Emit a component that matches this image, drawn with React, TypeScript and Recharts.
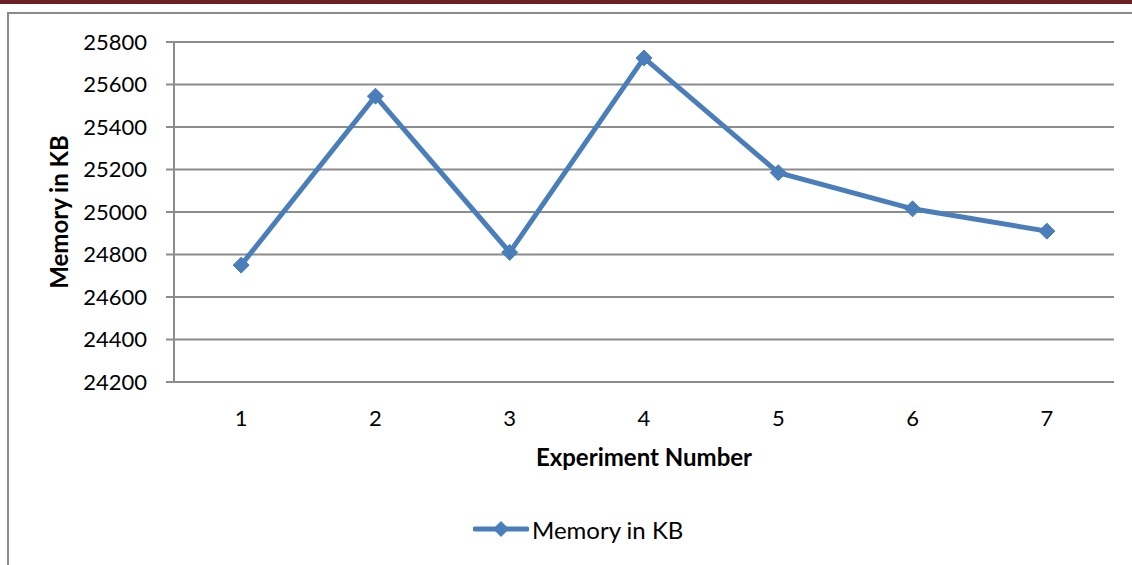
import { LineChart, Line, XAxis, YAxis, CartesianGrid } from 'recharts';

const experiments = [1, 2, 3, 4, 5, 6, 7];
const memoryKb = [24750, 25545, 24810, 25725, 25185, 25015, 24910];
const yTicks = [24200, 24400, 24600, 24800, 25000, 25200, 25400, 25600, 25800];
const boundaryTicks = [0.5, 1.5, 2.5, 3.5, 4.5, 5.5, 6.5, 7.5];

const data = experiments.map((n, i) => ({ exp: n, memory: memoryKb[i] }));

const BLUE = '#4a7ebb';
const GRID = '#8c8c8c';
const FONT = 'Lato, "Open Sans", sans-serif';

const Diamond = (props: any) => {
    const { cx, cy } = props;
    if (cx == null || cy == null) return null;
    const r = 8;
    return (
        <polygon
            points={`${cx},${cy - r} ${cx + r},${cy} ${cx},${cy + r} ${cx - r},${cy}`}
            fill={BLUE}
            stroke={BLUE}
        />
    );
};

export default function App() {
    return (
        <div style={{ position: 'absolute', left: 0, top: 0, width: 1132, height: 565, background: '#fff', overflow: 'hidden', fontFamily: FONT }}>
            <div style={{ position: 'absolute', left: 0, top: 0, width: 1132, height: 4, background: '#6b2024' }} />
            <div style={{ position: 'absolute', left: 7, top: 12, width: 1140, height: 600, border: '2px solid #8a8a8a', boxSizing: 'border-box' }} />
            <div style={{ position: 'absolute', left: 0, top: 0 }}>
                <LineChart width={1132} height={565} data={data} margin={{ top: 42, right: 18, bottom: 93, left: 44 }}>
                    <CartesianGrid vertical={false} stroke={GRID} strokeWidth={2} />
                    <XAxis
                        xAxisId="bounds"
                        dataKey="exp"
                        type="number"
                        domain={[0.5, 7.5]}
                        ticks={boundaryTicks}
                        tick={false}
                        height={0}
                        axisLine={false}
                        tickLine={{ stroke: GRID, strokeWidth: 2 }}
                        tickSize={8}
                    />
                    <XAxis
                        dataKey="exp"
                        type="number"
                        domain={[0.5, 7.5]}
                        ticks={experiments}
                        height={90}
                        axisLine={{ stroke: GRID, strokeWidth: 2 }}
                        tickLine={false}
                        tickSize={8}
                        tickMargin={20}
                        tick={{ fill: '#000', fontSize: 22, fontFamily: FONT }}
                        label={{ value: 'Experiment Number', position: 'insideBottom', offset: 6, fill: '#000', fontSize: 24, fontWeight: 'bold', fontFamily: FONT }}
                    />
                    <YAxis
                        type="number"
                        domain={[24200, 25800]}
                        ticks={yTicks}
                        width={130}
                        axisLine={{ stroke: GRID, strokeWidth: 2 }}
                        tickLine={{ stroke: GRID, strokeWidth: 2 }}
                        tickSize={8}
                        tickMargin={19}
                        tick={{ fill: '#000', fontSize: 22, fontFamily: FONT }}
                        label={{
                            value: 'Memory in KB',
                            content: ({ viewBox }: any) => {
                                const x = viewBox.x + 14;
                                const y = viewBox.y + viewBox.height / 2;
                                return (
                                    <text x={x} y={y} transform={`rotate(-90, ${x}, ${y})`} textAnchor="middle" dominantBaseline="central" fill="#000" fontSize={24} fontWeight="bold" fontFamily={FONT}>
                                        Memory in KB
                                    </text>
                                );
                            },
                        }}
                    />
                    <Line
                        type="linear"
                        dataKey="memory"
                        stroke={BLUE}
                        strokeWidth={5}
                        dot={<Diamond />}
                        activeDot={false}
                        isAnimationActive={false}
                    />
                </LineChart>
            </div>
            <div style={{ position: 'absolute', left: 473, top: 514, height: 30, display: 'flex', alignItems: 'center' }}>
                <svg width={56} height={20}>
                    <line x1={2} y1={10} x2={54} y2={10} stroke={BLUE} strokeWidth={5} strokeLinecap="round" />
                    <polygon points="28,2 36,10 28,18 20,10" fill={BLUE} />
                </svg>
                <span style={{ fontSize: 24, color: '#000', marginLeft: 3 }}>Memory in KB</span>
            </div>
        </div>
    );
}
